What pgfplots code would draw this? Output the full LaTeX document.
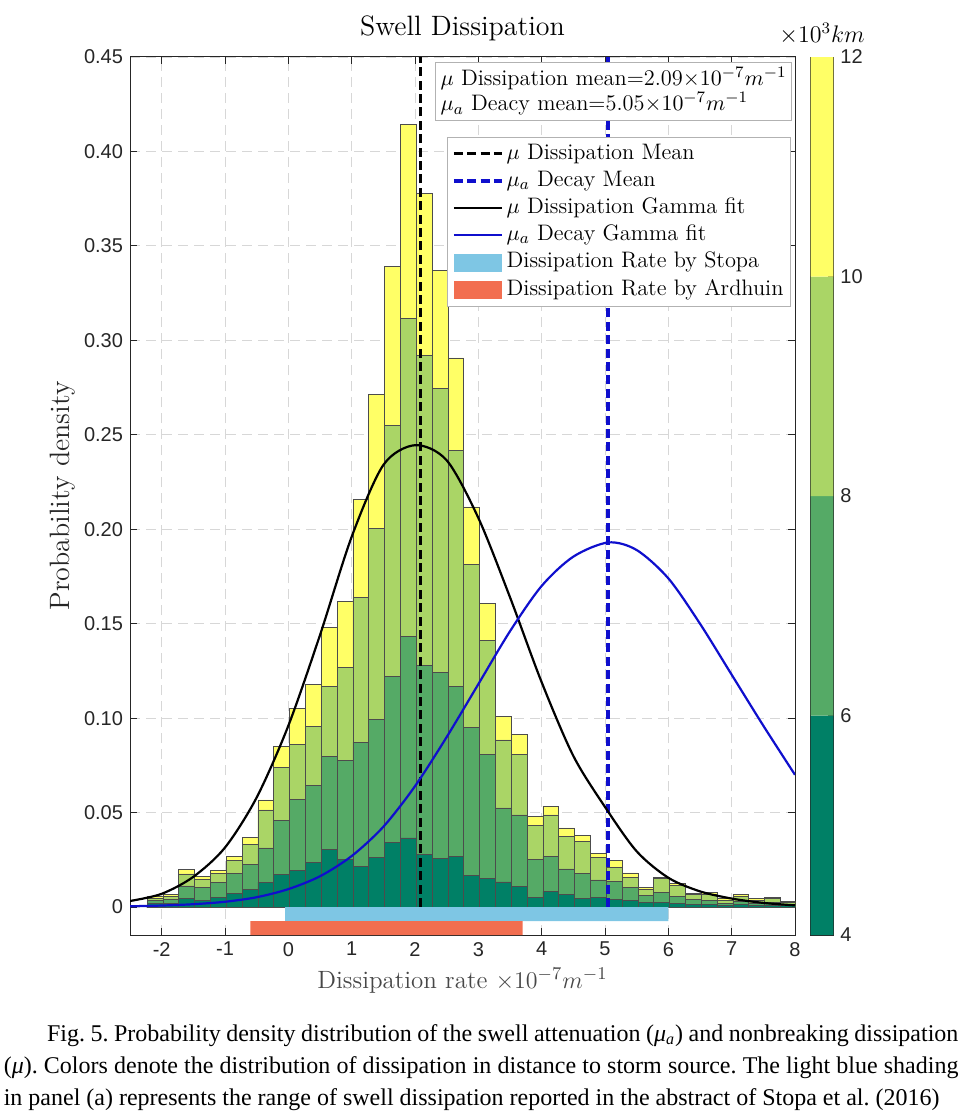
\documentclass[border=0pt]{standalone}
\usepackage{fontspec}
\usepackage{pgfplots}
\pgfplotsset{compat=1.18}
\usepackage{pgfplotstable}

\newfontfamily\arialfont{Liberation Sans}
\newfontfamily\timesfont{Liberation Serif}
\newcommand\capfont{\timesfont\fontsize{12}{16}\selectfont\frenchspacing}

% summer colormap, four distance classes
\definecolor{sumA}{RGB}{0,128,102}
\definecolor{sumB}{RGB}{85,170,102}
\definecolor{sumC}{RGB}{170,213,102}
\definecolor{sumD}{RGB}{255,255,102}
\definecolor{stopa}{RGB}{126,198,228}
\definecolor{ardhuin}{RGB}{242,110,80}
\definecolor{axgray}{RGB}{38,38,38}
\definecolor{gridgray}{RGB}{215,215,215}
\definecolor{fitblue}{RGB}{15,15,205}

\pgfplotsset{
  lineleg/.style={legend image code/.code={\draw[##1] (0pt,0pt) -- (24pt,0pt);}},
  boxleg/.style={legend image code/.code={\fill[##1] (0pt,-4.5pt) rectangle (24pt,4.5pt);}},
}

% cumulative heights of the stacked histogram (bin width 0.25)
% D: 4-6, M: up to 8, L: up to 10, T: up to 12 (x10^3 km)
\pgfplotstableread{
x      D      M      L      T
-2.105 0.0018 0.0033 0.0046 0.0055
-1.855 0.0018 0.0040 0.0057 0.0068
-1.605 0.0045 0.0112 0.0175 0.0198
-1.355 0.0036 0.0104 0.0145 0.0163
-1.105 0.0050 0.0131 0.0180 0.0192
-0.855 0.0070 0.0180 0.0248 0.0266
-0.605 0.0092 0.0224 0.0331 0.0368
-0.355 0.0132 0.0313 0.0514 0.0567
-0.105 0.0173 0.0458 0.0738 0.0851
0.145  0.0192 0.0569 0.0863 0.1053
0.395  0.0234 0.0643 0.0958 0.1180
0.645  0.0303 0.0796 0.1170 0.1480
0.895  0.0250 0.0777 0.1270 0.1616
1.145  0.0213 0.0873 0.1640 0.2159
1.395  0.0262 0.0993 0.2006 0.2714
1.645  0.0342 0.1220 0.2550 0.3390
1.895  0.0366 0.1432 0.3115 0.4145
2.145  0.0278 0.1278 0.2920 0.3780
2.395  0.0257 0.1240 0.2745 0.3370
2.645  0.0266 0.1169 0.2419 0.2907
2.895  0.0169 0.0949 0.1812 0.2118
3.145  0.0151 0.0806 0.1412 0.1606
3.395  0.0133 0.0525 0.0885 0.1010
3.645  0.0109 0.0488 0.0806 0.0912
3.895  0.0049 0.0250 0.0431 0.0479
4.145  0.0083 0.0268 0.0488 0.0534
4.395  0.0065 0.0202 0.0373 0.0419
4.645  0.0044 0.0176 0.0349 0.0377
4.895  0.0049 0.0144 0.0261 0.0284
5.145  0.0039 0.0136 0.0211 0.0247
5.395  0.0035 0.0102 0.0158 0.0181
5.645  0.0023 0.0062 0.0093 0.0106
5.895  0.0026 0.0079 0.0150 0.0158
6.145  0.0018 0.0056 0.0114 0.0123
6.395  0.0012 0.0040 0.0065 0.0070
6.645  0.0012 0.0035 0.0065 0.0076
6.895  0.0009 0.0018 0.0035 0.0044
7.145  0.0012 0.0032 0.0056 0.0067
7.395  0.0008 0.0018 0.0035 0.0044
7.645  0.0011 0.0026 0.0044 0.0053
7.895  0.0008 0.0014 0.0026 0.0032
}\histtab

% gamma fit of the dissipation mu
\pgfplotstableread{
x     y
-2.5  0.0032
-2.0  0.0070
-1.5  0.0160
-1.0  0.0315
-0.5  0.0580
0.0   0.0960
0.5   0.1440
1.0   0.1960
1.5   0.2340
2.0   0.2445
2.5   0.2365
3.0   0.2060
3.5   0.1640
4.0   0.1190
4.5   0.0800
5.0   0.0530
5.5   0.0295
6.0   0.0155
6.5   0.0083
7.0   0.0045
7.5   0.0022
8.0   0.0009
}\fitmu

% gamma fit of the decay mu_a
\pgfplotstableread{
x     y
-2.5  0.0004
-2.0  0.0008
-1.5  0.0015
-1.0  0.0028
-0.5  0.0052
0.0   0.0095
0.5   0.0163
1.0   0.0270
1.5   0.0425
2.0   0.0640
2.5   0.0900
3.0   0.1180
3.5   0.1460
4.0   0.1700
4.5   0.1855
5.05  0.1930
5.5   0.1890
6.0   0.1740
6.5   0.1500
7.0   0.1230
7.5   0.0960
8.0   0.0700
}\fitmua

\begin{document}
\begin{tikzpicture}
\path[use as bounding box] (0,0) rectangle (488pt,-556pt);

\begin{axis}[
  at={(65pt,-467.5pt)}, anchor=south west,
  scale only axis, width=332.5pt, height=439pt,
  xmin=-2.5, xmax=8, ymin=-0.0148, ymax=0.45,
  xtick={-2,-1,0,1,2,3,4,5,6,7,8},
  xticklabels={-2,-1,0,1,2,3,4,5,6,7,8},
  ytick={0,0.05,0.1,0.15,0.2,0.25,0.3,0.35,0.4,0.45},
  yticklabels={0,0.05,0.10,0.15,0.20,0.25,0.30,0.35,0.40,0.45},
  tick align=inside, major tick length=3.5pt,
  grid=major,
  grid style={gridgray, line width=0.45pt, dash pattern=on 5pt off 3pt},
  axis line style={axgray, line width=0.5pt},
  tick style={axgray, line width=0.5pt},
  tick label style={font=\arialfont\fontsize{10}{12}\selectfont, text=axgray},
  title={Swell Dissipation},
  every axis title/.style={at={(axis description cs:0.5,1.025)}, anchor=base,
               font=\fontsize{14}{16}\selectfont, inner sep=0pt},
  xlabel={Dissipation rate $\times10^{-7}m^{-1}$},
  xlabel style={at={(axis description cs:0.5,-0.0605)}, anchor=base,
                font=\fontsize{12.5}{15}\selectfont, inner sep=0pt, text=black!72},
  ylabel={Probability density},
  ylabel style={at={(axis description cs:-0.102,0.5)}, anchor=center,
                font=\fontsize{14}{16}\selectfont, inner sep=0pt, text=axgray},
  legend style={at={(0.994,0.909)}, anchor=north east,
                draw=gray!60, fill=white, line width=0.5pt,
                font=\fontsize{11.2}{13}\selectfont,
                inner xsep=2pt, inner ysep=1.5pt, row sep=0.3pt,
                nodes={inner xsep=1.5pt, inner ysep=1.5pt, text height=7.8pt, text depth=2.5pt},
                cells={anchor=west}},
  legend cell align=left,
]

% stacked histogram, drawn as overlaid cumulative bars
\addplot[ybar, bar width=0.25, bar shift=0pt, fill=sumD, draw=black!70, line width=0.35pt, forget plot]
  table[x=x, y=T] {\histtab};
\addplot[ybar, bar width=0.25, bar shift=0pt, fill=sumC, draw=black!70, line width=0.35pt, forget plot]
  table[x=x, y=L] {\histtab};
\addplot[ybar, bar width=0.25, bar shift=0pt, fill=sumB, draw=black!70, line width=0.35pt, forget plot]
  table[x=x, y=M] {\histtab};
\addplot[ybar, bar width=0.25, bar shift=0pt, fill=sumA, draw=black!70, line width=0.35pt, forget plot]
  table[x=x, y=D] {\histtab};

% means
\addplot[black, line width=1.4pt, dash pattern=on 4.5pt off 2.2pt, lineleg]
  coordinates {(2.09,0) (2.09,0.45)};
\addlegendentry{$\mu$ Dissipation Mean}
\addplot[fitblue, line width=1.9pt, dash pattern=on 4.5pt off 2.2pt, lineleg]
  coordinates {(5.05,0) (5.05,0.45)};
\addlegendentry{$\mu_a$ Decay Mean}

% fitted densities
\addplot[black, line width=1.1pt, smooth, lineleg]
  table[x=x, y=y] {\fitmu};
\addlegendentry{$\mu$ Dissipation Gamma fit}
\addplot[fitblue, line width=1.1pt, smooth, lineleg]
  table[x=x, y=y] {\fitmua};
\addlegendentry{$\mu_a$ Decay Gamma fit}

% published ranges
\addplot[fill=stopa, draw=none, boxleg]
  coordinates {(-0.05,0) (6.0,0) (6.0,-0.0074) (-0.05,-0.0074) (-0.05,0)};
\addlegendentry{Dissipation Rate by Stopa}
\addplot[fill=ardhuin, draw=none, boxleg]
  coordinates {(-0.6,-0.0074) (3.7,-0.0074) (3.7,-0.0148) (-0.6,-0.0148) (-0.6,-0.0074)};
\addlegendentry{Dissipation Rate by Ardhuin}

\node[draw=gray!60, fill=white, line width=0.5pt, anchor=north east, align=left,
      font=\fontsize{11.2}{12.5}\selectfont, inner xsep=2.5pt, inner ysep=2.5pt]
  at (rel axis cs:0.9955,0.9943)
  {$\mu$ Dissipation mean=2.09$\times10^{-7}m^{-1}$\\
   $\mu_a$ Deacy mean=5.05$\times10^{-7}m^{-1}$};
\end{axis}

% colour bar for distance to storm source
\begin{axis}[
  at={(405.35pt,-467.5pt)}, anchor=south west,
  scale only axis, width=11.3pt, height=439pt,
  xmin=0, xmax=1, ymin=4, ymax=12,
  xtick=\empty,
  ytick={4,6,8,10,12}, yticklabels={4,6,8,10,12},
  ytick pos=right, yticklabel pos=right,
  tick align=inside, major tick length=2.5pt,
  axis line style={axgray, line width=0.4pt},
  tick style={axgray, line width=0.4pt},
  tick label style={font=\arialfont\fontsize{10}{12}\selectfont, text=axgray},
  clip=false,
]
\addplot[fill=sumA, draw=none] coordinates {(0,4) (1,4) (1,6) (0,6) (0,4)};
\addplot[fill=sumB, draw=none] coordinates {(0,6) (1,6) (1,8) (0,8) (0,6)};
\addplot[fill=sumC, draw=none] coordinates {(0,8) (1,8) (1,10) (0,10) (0,8)};
\addplot[fill=sumD, draw=none] coordinates {(0,10) (1,10) (1,12) (0,12) (0,10)};
\node[anchor=base, font=\fontsize{12}{14}\selectfont, inner sep=0pt, yshift=7.5pt]
  at (rel axis cs:0.5,1) {$\times10^3km$};
\end{axis}

% caption, first two lines justified
\node[anchor=base west, inner sep=0pt] at (23.3pt,-520.5pt)
  {\makebox[455.7pt][s]{\capfont
   Fig. 5. Probability density distribution of the swell attenuation (\textit{μ}\textsubscript{\textit{a}}) and nonbreaking dissipation}};
\node[anchor=base west, inner sep=0pt] at (1.7pt,-536.5pt)
  {\makebox[477.3pt][s]{\capfont
   (\textit{μ}). Colors denote the distribution of dissipation in distance to storm source. The light blue shading}};
\node[anchor=base west, inner sep=0pt] at (1.7pt,-552.5pt)
  {\capfont in panel (a) represents the range of swell dissipation reported in the abstract of Stopa et al. (2016)};
\end{tikzpicture}
\end{document}
